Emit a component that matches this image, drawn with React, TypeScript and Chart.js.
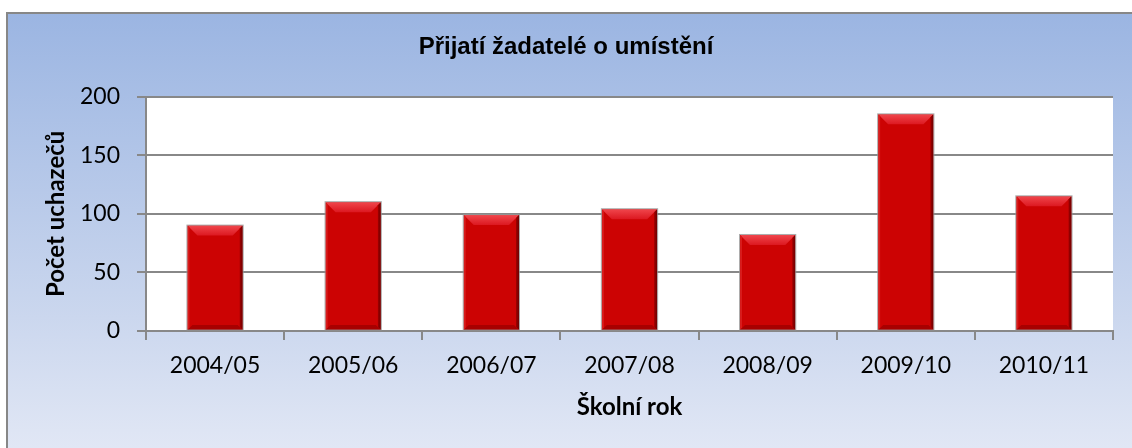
import React, { useEffect, useRef } from "react";
import { Chart, registerables } from "chart.js";

Chart.register(...registerables);

const categories = ["2004/05", "2005/06", "2006/07", "2007/08", "2008/09", "2009/10", "2010/11"];
const applicants = [90, 110, 99, 104, 82, 185, 115];
const yMin = 0;
const yMax = 200;
const yStep = 50;
const chartTitle = "Přijatí žadatelé o umístění";
const xTitle = "Školní rok";
const yTitle = "Počet uchazečů";

const W = 1132;
const H = 448;

const bgPlugin = {
  id: "excelBg",
  beforeDraw(chart: any) {
    const { ctx, width, height, chartArea } = chart;
    ctx.save();
    ctx.fillStyle = "#ffffff";
    ctx.fillRect(0, 0, width, height);
    const g = ctx.createLinearGradient(0, 13, 0, height);
    g.addColorStop(0, "#9BB5E2");
    g.addColorStop(0.7, "#CBD7EE");
    g.addColorStop(1, "#E1E7F5");
    ctx.fillStyle = g;
    ctx.fillRect(7, 13, width, height);
    ctx.strokeStyle = "#878787";
    ctx.lineWidth = 2;
    ctx.beginPath();
    ctx.moveTo(7, height + 5);
    ctx.lineTo(7, 13);
    ctx.lineTo(width + 5, 13);
    ctx.stroke();
    ctx.fillStyle = "#ffffff";
    ctx.fillRect(chartArea.left, chartArea.top, chartArea.right - chartArea.left, chartArea.bottom - chartArea.top);
    ctx.restore();
  },
};

const bevelPlugin = {
  id: "bevel",
  afterDatasetsDraw(chart: any) {
    const { ctx } = chart;
    const meta = chart.getDatasetMeta(0);
    ctx.save();
    meta.data.forEach((bar: any) => {
      const { x, y, base, width } = bar.getProps(["x", "y", "base", "width"], true);
      const l = x - width / 2;
      const r = x + width / 2;
      const t = y;
      const b = base;
      const bv = Math.min(10, (b - t) / 3);
      const bb = Math.min(5, (b - t) / 6);
      const gt = ctx.createLinearGradient(0, t, 0, t + bv);
      gt.addColorStop(0, "#F0464C");
      gt.addColorStop(1, "#DC1820");
      ctx.fillStyle = gt;
      ctx.beginPath();
      ctx.moveTo(l, t);
      ctx.lineTo(r, t);
      ctx.lineTo(r - bv, t + bv);
      ctx.lineTo(l + bv, t + bv);
      ctx.closePath();
      ctx.fill();
      const gr = ctx.createLinearGradient(r - 4, 0, r, 0);
      gr.addColorStop(0, "#B00000");
      gr.addColorStop(1, "#6E0000");
      ctx.fillStyle = gr;
      ctx.beginPath();
      ctx.moveTo(r, t);
      ctx.lineTo(r, b);
      ctx.lineTo(r - 3, b - 3);
      ctx.lineTo(r - 3, t + 3);
      ctx.closePath();
      ctx.fill();
      ctx.fillStyle = "#D81C1C";
      ctx.beginPath();
      ctx.moveTo(l, t);
      ctx.lineTo(l + 2, t + 2);
      ctx.lineTo(l + 2, b - 2);
      ctx.lineTo(l, b);
      ctx.closePath();
      ctx.fill();
      ctx.fillStyle = "#A80000";
      ctx.beginPath();
      ctx.moveTo(l, b);
      ctx.lineTo(r, b);
      ctx.lineTo(r - bb, b - bb);
      ctx.lineTo(l + bb, b - bb);
      ctx.closePath();
      ctx.fill();
      ctx.strokeStyle = "rgba(150,150,150,0.8)";
      ctx.lineWidth = 1;
      ctx.strokeRect(l - 0.5, t - 0.5, r - l + 1, b - t + 0.5);
    });
    ctx.restore();
  },
};

export default function App() {
  const ref = useRef<HTMLCanvasElement | null>(null);

  useEffect(() => {
    if (!ref.current) return;
    const chart = new Chart(ref.current, {
      type: "bar",
      data: {
        labels: categories,
        datasets: [
          {
            label: yTitle,
            data: applicants,
            backgroundColor: "#CC0303",
            borderWidth: 0,
            barPercentage: 0.4,
            categoryPercentage: 1,
            yAxisID: "y",
          },
        ],
      },
      options: {
        responsive: false,
        animation: false,
        devicePixelRatio: 1,
        layout: { padding: { left: 0, right: 0, top: 0, bottom: 0 } },
        plugins: {
          legend: { display: false },
          tooltip: { enabled: false },
          title: {
            display: true,
            text: chartTitle,
            color: "#000000",
            font: { family: "'Liberation Sans', Arial, sans-serif", size: 24, weight: "bold", lineHeight: 1.2 },
            padding: { top: 33, bottom: 35 },
          },
        },
        scales: {
          x: {
            grid: {
              display: true,
              drawOnChartArea: false,
              drawTicks: true,
              tickLength: 9,
              color: "#888888",
              lineWidth: 2,
              offset: true,
            },
            border: { display: true, color: "#888888", width: 2 },
            ticks: {
              color: "#000000",
              font: { family: "Lato, 'Open Sans', sans-serif", size: 23 },
              padding: 12,
              maxRotation: 0,
            },
            title: {
              display: true,
              text: xTitle,
              color: "#000000",
              font: { family: "Lato, 'Open Sans', sans-serif", size: 24, weight: "bold", lineHeight: 1.2 },
              padding: { top: 0, bottom: 26 },
            },
            afterFit(scale: any) {
              scale.height = H - 331;
            },
          },
          y: {
            min: yMin,
            max: yMax,
            ticks: {
              stepSize: yStep,
              color: "#000000",
              font: { family: "Lato, 'Open Sans', sans-serif", size: 23 },
              padding: 17,
            },
            grid: {
              color: "#888888",
              lineWidth: 2,
              tickLength: 9,
              drawTicks: true,
            },
            border: { display: true, color: "#888888", width: 2 },
            title: {
              display: true,
              text: yTitle,
              color: "#000000",
              font: { family: "Lato, 'Open Sans', sans-serif", size: 24, weight: "bold", lineHeight: 1.2 },
              padding: { top: 42, bottom: 0 },
            },
            afterFit(scale: any) {
              scale.width = 146;
            },
          },
          yRight: {
            position: "right",
            display: true,
            min: yMin,
            max: yMax,
            grid: { display: false, drawTicks: false },
            border: { display: false },
            ticks: { display: false },
            afterFit(scale: any) {
              scale.width = W - 1113;
            },
          },
        },
      },
      plugins: [bgPlugin, bevelPlugin],
    });
    return () => chart.destroy();
  }, []);

  return (
    <div style={{ position: "fixed", left: 0, top: 0, width: W, height: H }}>
      <canvas ref={ref} width={W} height={H} style={{ width: W, height: H, display: "block" }} />
    </div>
  );
}
